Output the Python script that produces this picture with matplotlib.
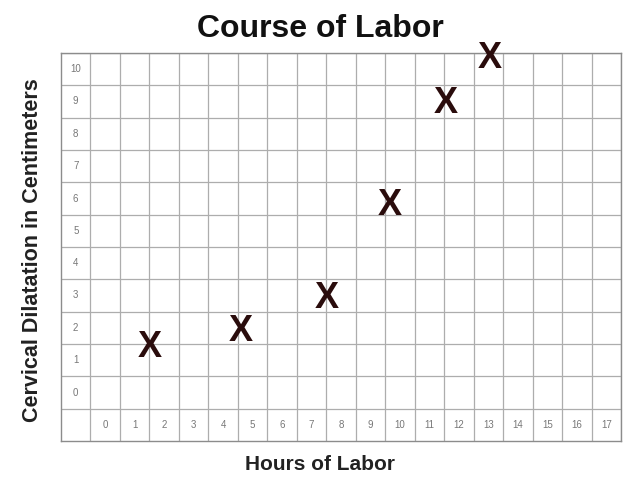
import matplotlib
matplotlib.use("Agg")
import matplotlib.pyplot as plt
from matplotlib.transforms import offset_copy

plt.rcParams['font.family'] = ['Liberation Sans', 'DejaVu Sans']

# data
hours = list(range(0, 18))
cm = list(range(0, 11))
x_hours = [1.5, 4.6, 7.5, 9.65, 11.55, 13.05]
x_dilation = [1.5, 2.0, 3.0, 5.9, 9.05, 10.45]

fig = plt.figure(figsize=(6.4, 4.93), dpi=100)
ax = fig.add_axes([61 / 640, 52 / 493, 560 / 640, 388 / 493])
ax.set_xlim(-1.5, 17.5)
ax.set_ylim(-1.5, 10.5)
ax.set_xticks([])
ax.set_yticks([])
for s in ax.spines.values():
    s.set_color('#8c8c8c')
    s.set_linewidth(1.0)

# grid cells
for k in range(-1, len(hours)):
    ax.axvline(k + 0.5, color='#adadad', lw=0.9)
for k in range(-1, len(cm)):
    ax.axhline(k + 0.5, color='#adadad', lw=0.9)

# cell labels
for h in hours:
    ax.text(h, -1, str(h), ha='center', va='center', fontsize=7, color='#777777')
for v in cm:
    ax.text(-1, v, str(v), ha='center', va='center', fontsize=7, color='#777777')

# hand-drawn style X marks
fs = 26
trans = offset_copy(ax.transData, fig=fig, y=-0.716 * fs / 2, units='points')
for h, v in zip(x_hours, x_dilation):
    ax.text(h, v, 'X', ha='center', va='baseline', fontsize=fs,
            fontweight='bold', color='#2a0c0c', transform=trans, clip_on=False)

fig.text(0.5, 1 - 29 / 493, 'Course of Labor', ha='center', va='center',
         fontsize=23, fontweight='bold', color='#111111')
fig.text(0.5, 1 - 465 / 493, 'Hours of Labor', ha='center', va='center',
         fontsize=15, fontweight='bold', color='#222222')
fig.text(33 / 640, 1 - 250 / 493, 'Cervical Dilatation in Centimeters',
         ha='center', va='center', rotation=90,
         fontsize=15.5, fontweight='bold', color='#222222')

fig.savefig('out.png', dpi=100)
